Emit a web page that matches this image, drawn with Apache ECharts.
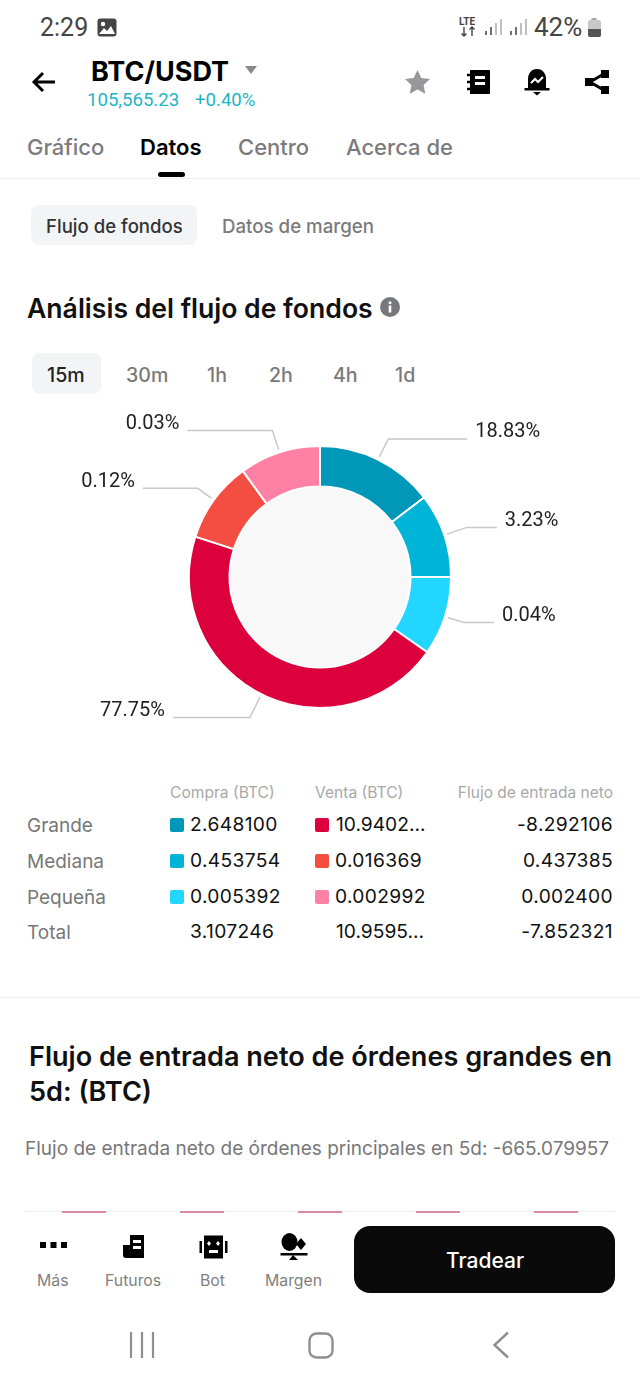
<!DOCTYPE html>
<html lang="es">

<head>
    <meta charset="UTF-8">
    <title>BTC/USDT</title>
    <script src="https://cdnjs.cloudflare.com/ajax/libs/echarts/6.0.0/echarts.min.js"></script>
    <style>
        html, body { margin: 0; padding: 0; background: #fff; }
        #page { position: relative; width: 640px; height: 1387px; overflow: hidden; background: #fff; font-family: Inter, Roboto, sans-serif; }
        #page .t { position: absolute; white-space: nowrap; line-height: 1; transform: translateY(-50%); }
        #page .box { position: absolute; }
        #page svg { position: absolute; }
        #pie { position: absolute; left: 0; top: 400px; width: 640px; height: 340px; }
        #bars { position: absolute; left: 0; top: 1210px; width: 640px; height: 3px; }
    </style>
</head>

<body>
    <div id="page">
        <div id="pie"></div>
        <div id="bars"></div>

        <!-- status bar icons -->
        <svg style="left:97px;top:18px" width="20" height="19" viewBox="0 0 20 19"><rect x="0.5" y="0.5" width="19" height="18" rx="3" fill="#444"/><circle cx="6" cy="6" r="2.2" fill="#fff"/><path d="M2 16l5-6 3 3 4-5 4 8z" fill="#fff"/></svg>
        <svg style="left:458px;top:16px" width="22" height="22" viewBox="0 0 22 22"><text x="1" y="9" font-size="10" font-weight="700" font-family="Roboto" fill="#444">LTE</text><path d="M6 11v9M3.500 17.500L6 20l2.500-2.500M14 20v-9M11.500 13.500L14 11l2.500 2.500" stroke="#444" stroke-width="1.400" fill="none"/></svg>
        <svg style="left:484px;top:18px" width="44" height="19" viewBox="0 0 44 19"><path d="M2 13v4M7 9v8M12 5v12M17 1v16" stroke="#aaa" stroke-width="1.500"/><path d="M2 13v4M7 9v8" stroke="#555" stroke-width="1.500"/><path d="M27 13v4M32 9v8M37 5v12M42 1v16" stroke="#aaa" stroke-width="1.500"/><path d="M27 13v4M32 9v8" stroke="#555" stroke-width="1.500"/></svg>
        <svg style="left:587px;top:17px" width="15" height="21" viewBox="0 0 15 21"><rect x="4.500" y="1" width="5" height="3" fill="#aaa"/><rect x="1" y="3" width="13" height="17" rx="2" fill="#c8c8c8"/><path d="M1 12h13v6a2 2 0 0 1-2 2H3a2 2 0 0 1-2-2z" fill="#555"/></svg>

        <!-- header icons -->
        <svg style="left:31px;top:70px" width="26" height="24" viewBox="0 0 26 24"><path d="M24 12H3M12 3l-9 9 9 9" stroke="#000" stroke-width="3" fill="none"/></svg>
        <svg style="left:244px;top:65px" width="14" height="9" viewBox="0 0 14 9"><path d="M1 1h12l-6 8z" fill="#8a8a8e"/></svg>
        <svg style="left:404px;top:69px" width="27" height="26" viewBox="0 0 27 26"><path d="M13.500 1l3.800 8 8.700 1.100-6.400 6 1.700 8.700-7.800-4.300-7.800 4.300 1.700-8.700-6.400-6L9.700 9z" fill="#98989c"/></svg>
        <svg style="left:466px;top:69px" width="25" height="26" viewBox="0 0 25 26"><path d="M4 1h19a1 1 0 0 1 1 1v22a1 1 0 0 1-1 1H4z" fill="#000"/><path d="M1 6h4M1 13h4M1 20h4" stroke="#000" stroke-width="2.500"/><rect x="9" y="7" width="10" height="3" fill="#fff"/><rect x="9" y="13" width="10" height="3" fill="#fff"/></svg>
        <svg style="left:524px;top:68px" width="26" height="28" viewBox="0 0 26 28"><path d="M13 1c6 0 9 5 9 10v9H4v-9C4 6 7 1 13 1z" fill="#000"/><rect x="0.500" y="20" width="25" height="2.500" fill="#000"/><path d="M9 24h8l-4 3.500z" fill="#000"/><path d="M7 15l4-4 3 3 5-5" stroke="#fff" stroke-width="2" fill="none"/></svg>
        <svg style="left:584px;top:69px" width="26" height="26" viewBox="0 0 26 26"><path d="M18 6L6 13l12 7" stroke="#000" stroke-width="3" fill="none"/><rect x="1" y="9" width="8" height="8" fill="#000"/><rect x="17" y="1" width="8" height="8" fill="#000"/><rect x="17" y="17" width="8" height="8" fill="#000"/></svg>

        <!-- tab indicator, dividers, pills -->
        <div class="box" style="left:158px;top:172px;width:27px;height:5px;border-radius:3px;background:#000"></div>
        <div class="box" style="left:0;top:178px;width:640px;height:1px;background:#eeeeee"></div>
        <div class="box" style="left:31px;top:205px;width:166px;height:40px;border-radius:8px;background:#f3f4f6"></div>
        <div class="box" style="left:32px;top:353px;width:69px;height:41px;border-radius:8px;background:#f3f4f6"></div>
        <div class="box" style="left:0;top:997px;width:640px;height:1px;background:#f0f0f0"></div>

        <svg style="left:380px;top:297px" width="20" height="20" viewBox="0 0 20 20"><circle cx="10" cy="10" r="10" fill="#77787c"/><rect x="8.700" y="8.500" width="2.600" height="7" fill="#fff"/><rect x="8.700" y="4.500" width="2.600" height="2.600" fill="#fff"/></svg>

        <!-- bottom bar -->
        <svg style="left:40px;top:1241px" width="27" height="8" viewBox="0 0 27 8"><rect x="0" y="1" width="6" height="6" fill="#000"/><rect x="10.500" y="1" width="6" height="6" fill="#000"/><rect x="21" y="1" width="6" height="6" fill="#000"/></svg>
        <svg style="left:122px;top:1234px" width="23" height="25" viewBox="0 0 23 25"><path d="M8 1h14v23H4a3 3 0 0 1-3-3V11h7z" fill="#000"/><rect x="11" y="6" width="8" height="3" fill="#fff"/><rect x="11" y="12" width="8" height="3" fill="#fff"/></svg>
        <svg style="left:199px;top:1235px" width="29" height="24" viewBox="0 0 29 24"><rect x="5" y="0.500" width="19" height="23" fill="#000"/><rect x="0.500" y="6" width="2.500" height="12" fill="#000"/><rect x="26" y="6" width="2.500" height="12" fill="#000"/><path d="M10 6l2 2.500-2 2.500-2-2.500zM19 6l2 2.500-2 2.500-2-2.500z" fill="#fff"/><rect x="10" y="15" width="9" height="3" fill="#fff"/></svg>
        <svg style="left:280px;top:1233px" width="28" height="28" viewBox="0 0 28 28"><ellipse cx="9.500" cy="9" rx="8" ry="9" fill="#000"/><path d="M21 5l5 6-5 6-5-6z" fill="#000"/><rect x="0.500" y="20" width="27" height="2.500" fill="#000"/><path d="M13 22l5 5H9z" fill="#000"/></svg>
        <div class="box" style="left:354px;top:1226px;width:261px;height:67px;border-radius:16px;background:#0a0a0a"></div>

        <!-- android nav -->
        <svg style="left:128px;top:1331px" width="28" height="28" viewBox="0 0 28 28"><path d="M3 1v26M14 1v26M25 1v26" stroke="#8f8f8f" stroke-width="2.200"/></svg>
        <svg style="left:308px;top:1332px" width="26" height="27" viewBox="0 0 26 27"><rect x="1.500" y="1.500" width="23" height="24" rx="7" stroke="#8f8f8f" stroke-width="2.400" fill="none"/></svg>
        <svg style="left:492px;top:1331px" width="18" height="28" viewBox="0 0 18 28"><path d="M16 1.500L2.500 14 16 26.500" stroke="#8f8f8f" stroke-width="2.400" fill="none"/></svg>
    </div>
</body>
<script>
    // percentages printed next to the donut
    var percentLabels = ["18.83%", "3.23%", "0.04%", "77.75%", "0.12%", "0.03%"];
    // arcs in degrees: the small slices are floored so arcs do not follow the percentages
    var sliceArcs = [52.6, 37.4, 35, 162.8, 36, 36];
    var sliceColors = ["#0097b8", "#00b4d8", "#22d6ff", "#dc003c", "#f44d42", "#ff80a5"];
    // leader line lengths per slice
    var lineFirst = [23, 24, 20, 26, 20, 23];
    var lineSecond = [79, 30, 30, 77, 55, 85];

    var rowNames = ["Grande", "Mediana", "Pequeña", "Total"];
    var buyValues = ["2.648100", "0.453754", "0.005392", "3.107246"];
    var sellValues = ["10.9402...", "0.016369", "0.002992", "10.9595..."];
    var netValues = ["-8.292106", "0.437385", "0.002400", "-7.852321"];
    var tableHeads = ["Compra (BTC)", "Venta (BTC)", "Flujo de entrada neto"];

    var tabs = ["Gráfico", "Datos", "Centro", "Acerca de"];
    var intervals = ["15m", "30m", "1h", "2h", "4h", "1d"];
    var navLabels = ["Más", "Futuros", "Bot", "Margen"];

    // only the top edge of the 5d bars shows above the bottom bar
    var barDays = ["d1", "d2", "d3", "d4", "d5"];
    var barValues = [-1, -1, -1, -1, -1];

    var page = document.getElementById("page");

    function addText(text, x, y, size, color, weight, font, rightAlign, spacing) {
        var el = document.createElement("div");
        el.className = "t";
        el.textContent = text;
        el.style.top = y + "px";
        el.style.fontSize = size + "px";
        el.style.color = color;
        el.style.fontWeight = weight || 400;
        if (font) el.style.fontFamily = font;
        if (spacing) el.style.letterSpacing = spacing + "px";
        if (rightAlign) el.style.right = (640 - x) + "px";
        else el.style.left = x + "px";
        page.appendChild(el);
    }

    function addSwatch(x, y, color) {
        var el = document.createElement("div");
        el.className = "box";
        el.style.cssText = "left:" + x + "px;top:" + (y - 7) + "px;width:14px;height:14px;border-radius:2px;background:" + color;
        page.appendChild(el);
    }

    addText("2:29", 40, 27, 25, "#444", 400, "Roboto");
    addText("42%", 534, 27, 26, "#444", 400, "Roboto");
    addText("BTC/USDT", 91, 71, 27, "#000", 700);
    addText("105,565.23", 87, 100, 18.6, "#1fb5c4", 400, "Roboto");
    addText("+0.40%", 195, 100, 18.6, "#1fb5c4", 400, "Roboto");

    var tabX = [27, 140, 238, 346];
    tabs.forEach(function (name, i) {
        addText(name, tabX[i], 147, 22, i == 1 ? "#000" : "#7b7b7d", i == 1 ? 600 : 500);
    });

    addText("Flujo de fondos", 46, 226, 18.6, "#333", 500);
    addText("Datos de margen", 222, 226.5, 18.7, "#7a7a7a", 500);
    addText("Análisis del flujo de fondos", 27, 308, 26.6, "#111", 600);

    var intervalX = [47, 126, 207, 269, 333, 395];
    intervals.forEach(function (name, i) {
        addText(name, intervalX[i], 376, 19.6, i == 0 ? "#222" : "#7a7a7a", 500);
    });

    // table under the donut
    addText(tableHeads[0], 170, 793, 15.6, "#a8a8a8", 400);
    addText(tableHeads[1], 315, 793, 15.6, "#a8a8a8", 400);
    addText(tableHeads[2], 613, 793, 15.5, "#a8a8a8", 400, null, true);

    var rowY = [825, 861, 897, 932];
    rowNames.forEach(function (name, i) {
        var cut = sellValues[i].indexOf("...") >= 0;
        addText(name, 27, rowY[i], 19, "#777", 400);
        addText(buyValues[i], 190, rowY[i], 19.2, "#111", 400, null, false, 0.35);
        addText(sellValues[i], cut ? 336 : 335, rowY[i], 19.2, "#111", 400, null, false, cut ? 0 : 0.35);
        addText(netValues[i], 613, rowY[i], 19.2, "#111", 400, null, true, 0.35);
        if (i < 3) {
            addSwatch(170, rowY[i], sliceColors[i]);
            addSwatch(315, rowY[i], sliceColors[i + 3]);
        }
    });

    addText("Flujo de entrada neto de órdenes grandes en", 29, 1057, 27.1, "#111", 600);
    addText("5d: (BTC)", 29, 1092, 27.1, "#111", 600);
    addText("Flujo de entrada neto de órdenes principales en 5d: -665.079957", 25, 1148, 19, "#777", 400);

    var navX = [37, 105, 200, 265];
    navLabels.forEach(function (name, i) {
        addText(name, navX[i], 1280.5, 15.8, "#7f7f7f", 400);
    });
    addText("Tradear", 446, 1260, 21, "#fff", 500);

    var chart1 = echarts.init(document.getElementById("pie"));
    var chart2 = echarts.init(document.getElementById("bars"));

    chart1.setOption({
        animation: false,
        graphic: [{
            type: "circle",
            shape: { cx: 320, cy: 177, r: 91 },
            style: { fill: "#f8f8f9" },
            silent: true
        }],
        series: [{
            type: "pie",
            center: [320, 177],
            radius: [90.5, 131],
            startAngle: 90,
            clockwise: true,
            avoidLabelOverlap: false,
            silent: true,
            itemStyle: { borderColor: "#fff", borderWidth: 2 },
            label: {
                show: true,
                position: "outside",
                fontFamily: "Roboto",
                fontSize: 20,
                color: "#222",
                distanceToLabelLine: 8,
                formatter: function (p) { return percentLabels[p.dataIndex]; }
            },
            labelLine: { show: true, lineStyle: { color: "#c8c8c8", width: 1.5 } },
            // leader lines start a little off the ring, text sits above the line end
            labelLayout: function (params) {
                var pts = params.labelLinePoints;
                if (!pts) return {};
                var dx = pts[1][0] - pts[0][0], dy = pts[1][1] - pts[0][1];
                var len = Math.sqrt(dx * dx + dy * dy);
                pts[0] = [pts[0][0] + dx / len * 3, pts[0][1] + dy / len * 3];
                return { dy: -6.5, labelLinePoints: pts };
            },
            data: sliceArcs.map(function (v, i) {
                return {
                    value: v,
                    name: percentLabels[i],
                    itemStyle: { color: sliceColors[i] },
                    labelLine: { length: lineFirst[i], length2: lineSecond[i] }
                };
            })
        }]
    });

    chart2.setOption({
        animation: false,
        grid: { left: 25, right: 25, top: 1, bottom: 0 },
        xAxis: {
            type: "category",
            data: barDays,
            position: "top",
            axisTick: { show: false },
            axisLabel: { show: false },
            axisLine: { onZero: false, lineStyle: { color: "#f0f0f0", width: 1 } }
        },
        yAxis: { type: "value", min: -1, max: 0, show: false },
        series: [{
            type: "bar",
            data: barValues,
            barWidth: 44,
            silent: true,
            itemStyle: { color: "#d98ba0" }
        }]
    });
</script>

</html>
